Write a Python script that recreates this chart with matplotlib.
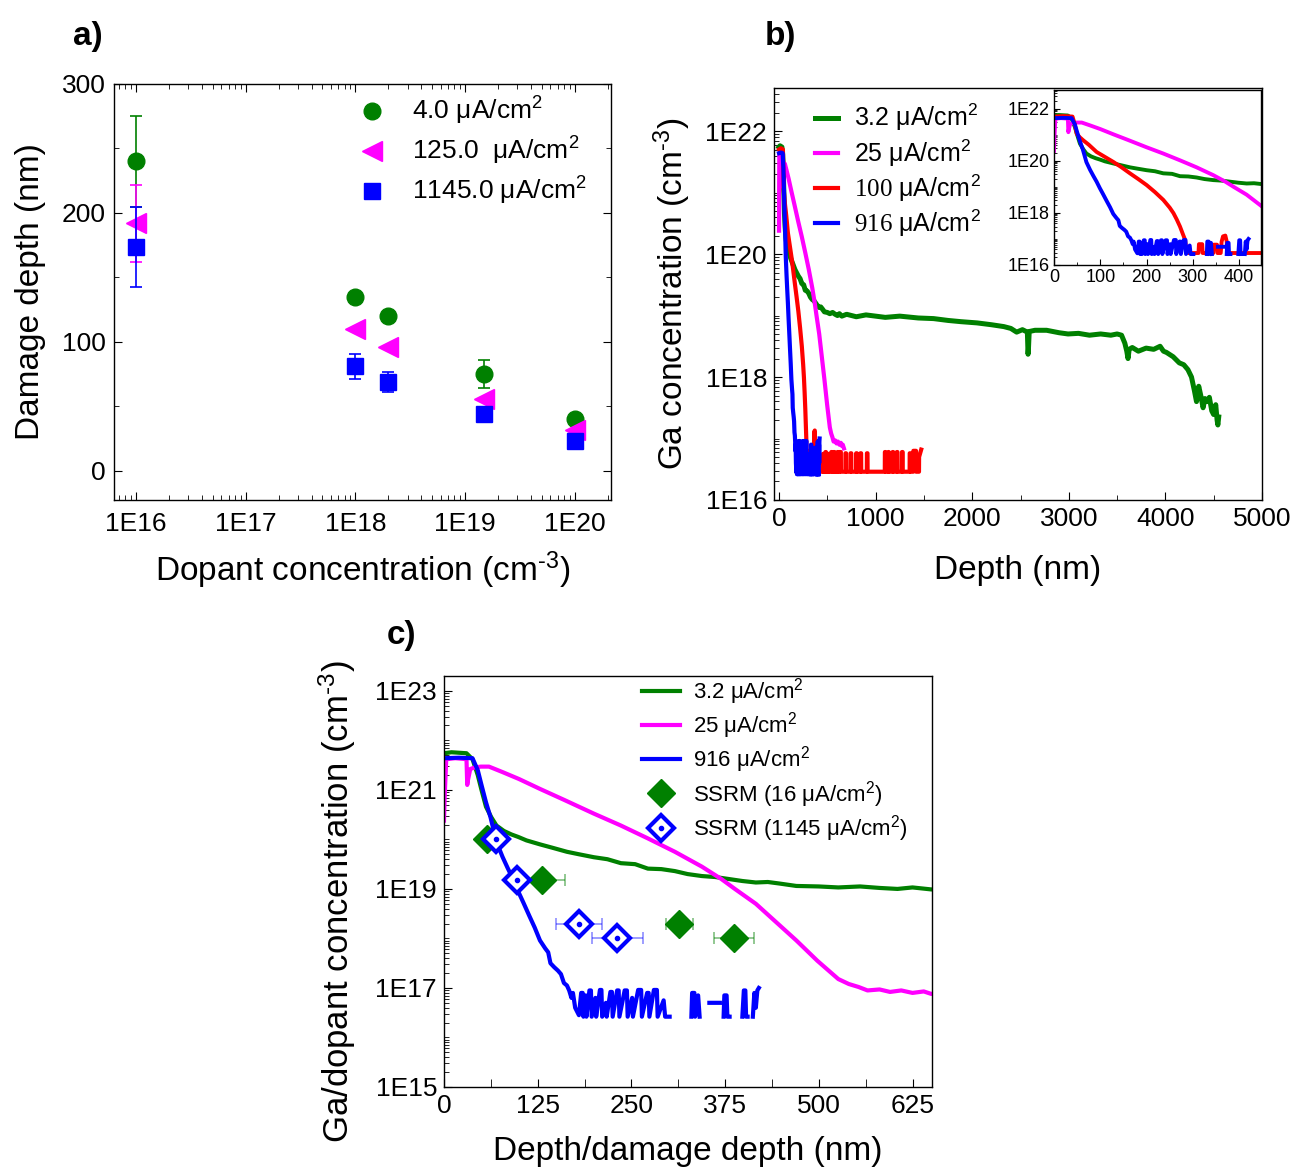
import numpy as np
import matplotlib
matplotlib.use('Agg')
import matplotlib.pyplot as plt
from matplotlib.ticker import FuncFormatter, FixedLocator, MultipleLocator, NullFormatter
from matplotlib.legend_handler import HandlerTuple

plt.rcParams['font.family'] = ['Liberation Sans', 'DejaVu Sans']
plt.rcParams['mathtext.fontset'] = 'custom'
plt.rcParams['mathtext.rm'] = 'Liberation Sans'
plt.rcParams['mathtext.it'] = 'Liberation Sans:italic'
plt.rcParams['mathtext.sf'] = 'Liberation Serif'
plt.rcParams['axes.linewidth'] = 1.0
plt.rcParams['xtick.direction'] = 'in'
plt.rcParams['ytick.direction'] = 'in'

GREEN = '#008000'
MAGENTA = '#ff00ff'
RED = '#ff0000'
BLUE = '#0000ff'
nan = np.nan

# ---- a) damage depth vs dopant concentration
dopant = [1e16, 1e18, 2e18, 1.5e19, 1e20]
damage_4 = [240, 135, 120, 75, 40]
damage_4_err = [35, 0, 0, 11, 0]
damage_125 = [192, 110, 96, 56, 32]
damage_125_err = [30, 0, 0, 0, 0]
damage_1145 = [174, 81, 69, 44, 23]
damage_1145_err = [31, 10, 7.5, 0, 0]
labels_a = ['4.0 μA/cm$^2$', '125.0  μA/cm$^2$', '1145.0 μA/cm$^2$']

# ---- b) / c) Ga depth profiles (depth in nm, log10 of concentration in cm^-3)
green_depth = [0, 10, 20, 30, 38, 45, 50, 56, 63, 70,
               80, 90, 99, 110, 128, 145, 164, 180, 200, 218,
               236, 255, 272, 290, 308, 325, 344, 362, 380, 398,
               416, 432, 447, 470, 500, 526, 555, 581, 605, 625,
               650, 700, 800, 900, 1000, 1100, 1250, 1441, 1600, 1750,
               1884, 2050, 2200, 2327, 2400, 2460, 2520, 2571, 2578, 2582,
               2590, 2650, 2770, 2900, 2992, 3100, 3214, 3330, 3435, 3500,
               3546, 3580, 3600, 3613, 3625, 3657, 3720, 3800, 3879, 3945,
               3980, 4011, 4080, 4144, 4190, 4233, 4270, 4300, 4322, 4345,
               4366, 4390, 4410, 4430, 4455, 4480, 4499, 4521, 4535, 4543, 4552]
green_log = [21.74, 21.76, 21.75, 21.74, 21.62, 21.30, 21.00, 20.66, 20.45, 20.28,
             20.17, 20.10, 20.05, 19.98, 19.90, 19.83, 19.75, 19.70, 19.64, 19.60,
             19.52, 19.50, 19.41, 19.40, 19.36, 19.30, 19.26, 19.24, 19.20, 19.16,
             19.13, 19.14, 19.11, 19.06, 19.05, 19.03, 19.05, 19.02, 19.00, 19.03,
             18.99, 19.02, 18.98, 19.01, 18.99, 18.97, 18.99, 18.96, 18.95, 18.92,
             18.90, 18.88, 18.85, 18.82, 18.79, 18.73, 18.77, 18.73, 18.37, 18.45,
             18.74, 18.76, 18.76, 18.72, 18.70, 18.71, 18.68, 18.70, 18.68, 18.70,
             18.68, 18.55, 18.42, 18.30, 18.45, 18.48, 18.42, 18.47, 18.45, 18.50,
             18.42, 18.40, 18.33, 18.23, 18.20, 18.12, 18.00, 17.78, 17.60, 17.85,
             17.70, 17.50, 17.65, 17.60, 17.67, 17.45, 17.39, 17.55, 17.30, 17.22, 17.35]

magenta_depth = [0, 1, 3, 15, 30, 31, 32, 35, 40, 49,
                 60, 78, 100, 128, 160, 200, 236, 272, 308, 344,
                 370, 388, 416, 443, 470, 498, 526, 540, 553, 565,
                 581, 595, 610, 625, 640, 650, 660, 672]
magenta_log = [20.38, 20.90, 21.62, 21.64, 21.62, 21.10, 21.20, 21.42, 21.45, 21.47,
               21.47, 21.36, 21.22, 21.02, 20.80, 20.52, 20.28, 20.02, 19.75, 19.45,
               19.20, 19.00, 18.70, 18.33, 17.96, 17.55, 17.18, 17.08, 17.02, 16.95,
               16.97, 16.92, 16.95, 16.90, 16.93, 16.88, 16.90, 16.84]

red_depth = [0, 20, 40, 45, 49, 56, 63, 75, 92, 110,
             128, 146, 164, 182, 200, 218, 236, 250, 258, 265,
             272, 278, 283, 286, 290, 312, 313, 320, 321, 344,
             345, 352, 353, 360, 362, 365, 370, 373, 374, 455,
             456, 462, 463, 480, 481, 486, 487, 510, 511, 515,
             516, 540, 541, 548, 549, 565, 566, 575, 576, 585,
             586, 590, 605, 606, 612, 613, 625, 626, 640, 641,
             687, 688, 694, 695, 740, 741, 748, 749, 798, 799,
             806, 807, 842, 843, 850, 851, 909, 910, 916, 917,
             1095, 1096, 1102, 1103, 1130, 1131, 1137, 1138, 1175, 1176,
             1182, 1183, 1219, 1220, 1226, 1227, 1272, 1273, 1280, 1281,
             1352, 1353, 1360, 1361, 1390, 1391, 1418, 1419, 1449, 1450,
             1472]
red_log = [21.70, 21.72, 21.70, 21.40, 21.04, 20.90, 20.79, 20.62, 20.34, 20.15,
           19.96, 19.75, 19.52, 19.30, 19.07, 18.80, 18.50, 18.20, 17.99, 17.75,
           17.48, 17.20, 16.97, 16.59, 16.46, 16.46, 16.80, 16.80, 16.46, 16.46,
           16.78, 16.78, 16.46, 16.46, 16.90, 17.10, 17.13, 16.90, 16.46, 16.46,
           16.75, 16.75, 16.46, 16.46, 16.78, 16.78, 16.46, 16.46, 16.75, 16.75,
           16.46, 16.46, 16.78, 16.78, 16.46, 16.46, 16.78, 16.78, 16.46, 16.46,
           16.76, 16.46, 16.46, 16.78, 16.78, 16.46, 16.46, 16.78, 16.78, 16.46,
           16.46, 16.76, 16.76, 16.46, 16.46, 16.76, 16.76, 16.46, 16.46, 16.76,
           16.76, 16.46, 16.46, 16.76, 16.76, 16.46, 16.46, 16.76, 16.76, 16.46,
           16.46, 16.78, 16.78, 16.46, 16.46, 16.78, 16.78, 16.46, 16.46, 16.78,
           16.78, 16.46, 16.46, 16.78, 16.78, 16.46, 16.46, 16.78, 16.78, 16.46,
           16.46, 16.76, 16.76, 16.46, 16.46, 16.80, 16.80, 16.46, 16.46, 16.70,
           16.82]

blue_depth = [0, 20, 38, 45, 50, 56, 62, 70, 78, 85,
              92, 99, 106, 114, 121, 128, 135, 139, 142, 147,
              152, 156, 160, 164, 167, 170, 172, 175, 180, 183,
              185, 186, 189, 190, 194, 196, 197, 202, 203, 208,
              210, 211, 216, 217, 222, 224, 225, 231, 233, 234,
              241, 244, 245, 251, 252, 259, 263, 264, 271, 273,
              274, 280, 284, 285, 293, 295, 301, nan, 330, 331,
              334, 335, 339, 341, nan, 354, 368, nan, 373, 374,
              377, 378, 381, nan, 398, 400, 402, 403, 405, nan,
              412, 414, 416, 418, 420]
blue_log = [21.64, 21.65, 21.64, 21.40, 21.10, 20.75, 20.45, 19.95, 19.65, 19.42,
            19.20, 18.95, 18.72, 18.45, 18.22, 17.96, 17.80, 17.72, 17.50, 17.42,
            17.35, 17.28, 17.10, 17.05, 16.95, 16.80, 16.90, 16.60, 16.45, 16.90,
            16.90, 16.42, 16.85, 16.42, 16.95, 16.95, 16.42, 16.80, 16.42, 16.96,
            16.96, 16.42, 16.70, 16.42, 16.92, 16.92, 16.42, 16.95, 16.95, 16.42,
            16.95, 16.95, 16.42, 16.80, 16.42, 16.96, 16.96, 16.42, 16.90, 16.90,
            16.42, 16.96, 16.96, 16.42, 16.75, 16.42, 16.42, nan, 16.42, 16.90,
            16.90, 16.42, 16.85, 16.42, nan, 16.70, 16.70, nan, 16.42, 16.85,
            16.85, 16.42, 16.42, nan, 16.42, 16.95, 16.95, 16.42, 16.42, nan,
            16.42, 16.90, 16.60, 16.95, 17.00]

labels_b = ['3.2 μA/cm$^2$', '25 μA/cm$^2$',
            r'$\mathsf{100}$ μA/cm$^2$', r'$\mathsf{916}$ μA/cm$^2$']

# ---- c) SSRM points
ssrm16_depth = [57, 131, 314, 387]
ssrm16_conc = [1e20, 1.5e19, 2e18, 1e18]
ssrm16_err = [0, 30, 18, 27]
ssrm1145_depth = [69, 98, 180, 231]
ssrm1145_conc = [1e20, 1.5e19, 2e18, 1e18]
ssrm1145_err = [0, 0, 31, 34]
labels_c = ['3.2 μA/cm$^2$', '25 μA/cm$^2$', '916 μA/cm$^2$',
            'SSRM (16 μA/cm$^2$)', 'SSRM (1145 μA/cm$^2$)']

CM3 = r'(cm$^{\text{-3}}$)'

W, H = 1311, 1169
fig = plt.figure(figsize=(W / 100, H / 100), dpi=100)

def box(l, t, r, b):
    return [l / W, 1 - b / H, (r - l) / W, (b - t) / H]

efmt = FuncFormatter(lambda v, p: '1E%d' % int(round(np.log10(v))))

def log_yaxis(ax, lo, hi):
    ax.set_yscale('log')
    ax.yaxis.set_major_locator(FixedLocator([10.0 ** e for e in range(lo, hi + 1, 2)]))
    minors = [s * 10.0 ** e for e in range(lo - 1, hi + 2) for s in range(1, 10)]
    ax.yaxis.set_minor_locator(FixedLocator(minors))
    ax.yaxis.set_major_formatter(efmt)
    ax.yaxis.set_minor_formatter(NullFormatter())

# ================= a)
ax = fig.add_axes(box(114, 84, 611, 500))
series_a = [(damage_4, damage_4_err, GREEN, 'o', 12),
            (damage_125, damage_125_err, MAGENTA, '<', 14),
            (damage_1145, damage_1145_err, BLUE, 's', 11)]
for (vals, errs, col, mk, ms), lab in zip(series_a, labels_a):
    ex = [d for d, e in zip(dopant, errs) if e > 0]
    ey = [v for v, e in zip(vals, errs) if e > 0]
    ee = [e for e in errs if e > 0]
    ax.errorbar(ex, ey, yerr=ee, fmt='none', ecolor=col, elinewidth=1.2,
                capsize=4, capthick=1.2)
    ax.plot(dopant, vals, ls='none', marker=mk, ms=ms, color=col, label=lab)
ax.set_xscale('log')
ax.set_xlim(10 ** 15.8, 10 ** 20.33)
ax.set_ylim(-22.5, 300)
ax.xaxis.set_major_formatter(efmt)
ax.yaxis.set_major_locator(MultipleLocator(100))
ax.yaxis.set_minor_locator(MultipleLocator(50))
ax.tick_params(which='both', top=True, right=True, labelsize=19)
ax.tick_params(which='major', length=6, pad=6)
ax.tick_params(axis='x', which='major', pad=9)
ax.tick_params(which='minor', length=3.5)
ax.set_xlabel('Dopant concentration ' + CM3, fontsize=24)
ax.set_ylabel('Damage depth (nm)', fontsize=24)
ax.xaxis.set_label_coords(0.5, -0.12)
ax.yaxis.set_label_coords(-0.137, 0.5)
ax.legend(loc='upper left', bbox_to_anchor=(359 / W, 1 - 95 / H),
          bbox_transform=fig.transFigure, frameon=False, fontsize=19,
          handlelength=1.0, handletextpad=1.0, labelspacing=0.3,
          borderpad=0, borderaxespad=0)

# ================= b)
axb = fig.add_axes(box(774, 88, 1262, 500))
axin = fig.add_axes(box(1054, 90, 1261, 265))
profiles = [(green_depth, green_log, GREEN), (magenta_depth, magenta_log, MAGENTA),
            (red_depth, red_log, RED), (blue_depth, blue_log, BLUE)]
for (d, lg, col), lab in zip(profiles, labels_b):
    conc = 10 ** np.array(lg, dtype=float)
    axb.plot(d, conc, color=col, lw=3.0 if col != GREEN else 3.6, label=lab)
    axin.plot(d, conc, color=col, lw=2.8)
axb.set_xlim(-52, 5000)
axb.set_ylim(1e16, 10 ** 22.7)
log_yaxis(axb, 16, 22)
axb.xaxis.set_major_locator(MultipleLocator(1000))
axb.xaxis.set_minor_locator(MultipleLocator(500))
axb.tick_params(which='both', labelsize=19)
axb.tick_params(which='major', length=6, pad=5)
axb.tick_params(which='minor', length=3.5)
axb.set_xlabel('Depth (nm)', fontsize=24)
axb.set_ylabel('Ga concentration ' + CM3, fontsize=24)
axb.xaxis.set_label_coords(0.5, -0.133)
axb.yaxis.set_label_coords(-0.166, 0.5)
axb.legend(loc='upper left', bbox_to_anchor=(815 / W, 1 - 102 / H),
           bbox_transform=fig.transFigure, frameon=False, fontsize=18,
           handlelength=0.9, handletextpad=0.65, labelspacing=0.15,
           borderpad=0, borderaxespad=0)

axin.set_xlim(0, 447)
axin.set_ylim(1e16, 10 ** 22.72)
log_yaxis(axin, 16, 22)
axin.xaxis.set_major_locator(MultipleLocator(100))
axin.xaxis.set_minor_locator(MultipleLocator(50))
axin.tick_params(which='both', labelsize=13)
axin.tick_params(which='major', length=4, pad=3)
axin.tick_params(which='minor', length=2.5)

# ================= c)
axc = fig.add_axes(box(444, 676, 932, 1087))
handles = []
for (d, lg, col), lab in zip([profiles[0], profiles[1], profiles[3]], labels_c[:3]):
    conc = 10 ** np.array(lg, dtype=float)
    h, = axc.plot(d, conc, color=col, lw=3.0)
    handles.append(h)
axc.errorbar(ssrm16_depth, ssrm16_conc, xerr=ssrm16_err, fmt='none',
             ecolor=GREEN, alpha=0.5, elinewidth=1.2, capsize=4, capthick=1.2)
axc.errorbar(ssrm1145_depth, ssrm1145_conc, xerr=ssrm1145_err, fmt='none',
             ecolor=BLUE, alpha=0.45, elinewidth=1.2, capsize=4, capthick=1.2)
h16, = axc.plot(ssrm16_depth, ssrm16_conc, ls='none', marker='D', ms=14,
                color=GREEN)
h1145, = axc.plot(ssrm1145_depth, ssrm1145_conc, ls='none', marker='D', ms=13,
                  mfc='white', mec=BLUE, mew=3)
hdot, = axc.plot(ssrm1145_depth, ssrm1145_conc, ls='none', marker='o', ms=3,
                 color=BLUE)
handles += [h16, (h1145, hdot)]
axc.set_xlim(0, 651)
axc.set_ylim(1e15, 10 ** 23.3)
log_yaxis(axc, 15, 23)
axc.xaxis.set_major_locator(MultipleLocator(125))
axc.xaxis.set_minor_locator(MultipleLocator(62.5))
axc.tick_params(which='both', labelsize=19)
axc.tick_params(which='major', length=6, pad=5)
axc.tick_params(which='minor', length=3.5)
axc.tick_params(axis='x', which='minor', length=6)
axc.set_xlabel('Depth/damage depth (nm)', fontsize=24)
axc.set_ylabel('Ga/dopant concentration ' + CM3, fontsize=25)
axc.xaxis.set_label_coords(0.5, -0.12)
axc.yaxis.set_label_coords(-0.176, 0.45)
axc.legend(handles, labels_c, loc='upper left', bbox_to_anchor=(642 / W, 1 - 676 / H),
           bbox_transform=fig.transFigure, frameon=False, fontsize=16,
           handlelength=1.7, handletextpad=0.6, labelspacing=0.15,
           borderpad=0, borderaxespad=0,
           handler_map={tuple: HandlerTuple(ndivide=1)})

for x, y, t in [(88, 45, 'a)'), (780, 45, 'b)'), (402, 644, 'c)')]:
    fig.text(x / W, 1 - y / H, t, fontsize=24, fontweight='bold',
             ha='center', va='baseline')

fig.savefig('out.png', dpi=100)
